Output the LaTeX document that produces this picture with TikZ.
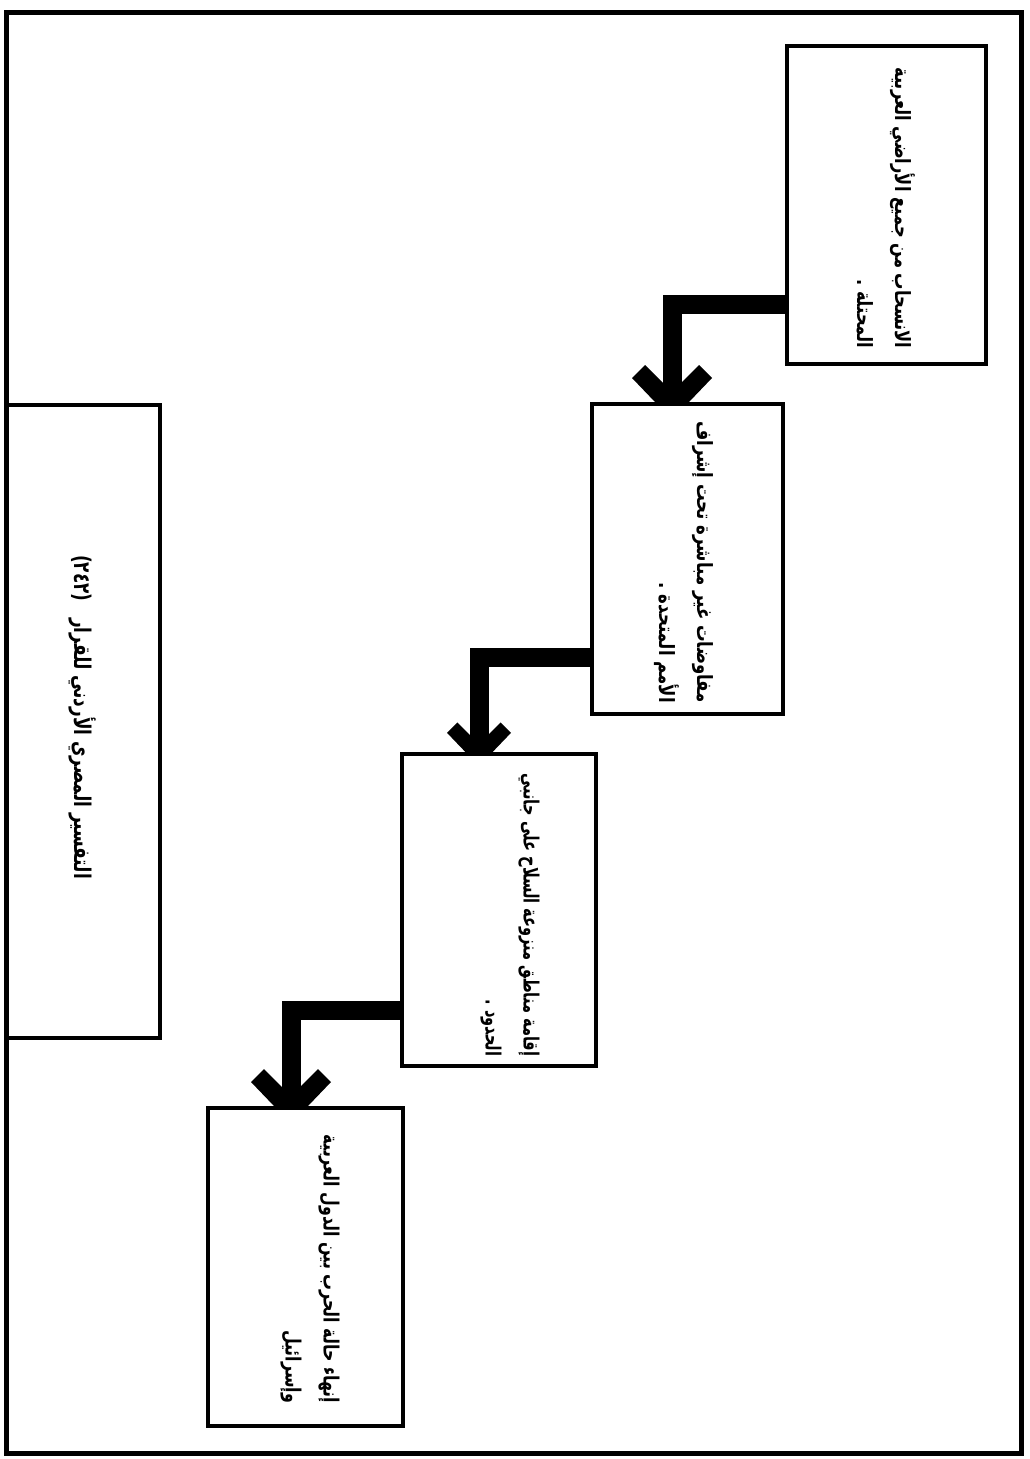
\documentclass[tikz,border=0pt]{standalone}
\usepackage{fontspec}
\newfontfamily\arabicfont[Script=Arabic]{DejaVu Sans}
\TeXXeTstate=1
\begin{document}
\begin{tikzpicture}[x=1pt,y=-1pt,
  box/.style={draw, line width=4pt, inner sep=0pt, rectangle},
  txt/.style={rotate=-90, align=right, inner sep=0pt,
    font=\arabicfont\bfseries\fontsize{21}{38}\selectfont},
  conn/.style={line width=19pt, line join=miter, line cap=butt},
  chev/.pic={\fill (-17,0) -- (17,0) -- (40,-24) -- (27,-37) -- (9,-19) -- (-9,-19) -- (-27,-37) -- (-40,-24) -- cycle;}
]
\useasboundingbox (0,0) rectangle (1029,1459);
\fill[white] (0,0) rectangle (1029,1459);
\draw[line width=5pt] (6,12) rectangle (1021,1453);

% boxes
\node[box, minimum width=199pt, minimum height=318pt] (b1) at (886.5,205) {};
\node[box, minimum width=191pt, minimum height=310pt] (b2) at (687.5,559) {};
\node[box, minimum width=194pt, minimum height=312pt] (b3) at (499,910) {};
\node[box, minimum width=195pt, minimum height=318pt] (b4) at (305.5,1267) {};
\node[box, minimum width=153pt, minimum height=633pt] (b0) at (83.5,721.5) {};

% texts
\node[txt, xscale=0.776] (t1) at (886,208) {\beginR الانسحاب من جميع الأراضي العربية\endR\\\beginR المحتلة .\endR};
\node[txt, xscale=0.79] (t2) at (684,562) {\beginR مفاوضات غير مباشرة تحت إشراف\endR\\\beginR الأمم المتحدة .\endR};
\node[txt, xscale=0.695] (t3) at (510,915) {\beginR إقامة مناطق منزوعة السلاح على جانبي\endR\\\beginR الحدود .\endR};
\node[txt, xscale=0.755] (t4) at (310,1269) {\beginR إنهاء حالة الحرب بين الدول العربية\endR\\\beginR وإسرائيل\endR};
\node[txt, xscale=0.733, font=\arabicfont\bfseries\fontsize{23}{30}\selectfont] (t0) at (83,717) {\beginR التفسير المصري الأردني للقرار\quad (٢٤٢)\endR};

% connectors
\coordinate (k1) at (672,304);
\coordinate (k2) at (479,657);
\coordinate (k3) at (291,1010);
\draw[conn] (b1.west |- k1) -| (k1 |- b2.north);
\pic at (k1 |- b2.north) {chev};
\draw[conn] (b2.west |- k2) -| (k2 |- b3.north);
\pic[scale=0.8] at (k2 |- b3.north) {chev};
\draw[conn] (b3.west |- k3) -| (k3 |- b4.north);
\pic at (k3 |- b4.north) {chev};
\end{tikzpicture}
\end{document}
